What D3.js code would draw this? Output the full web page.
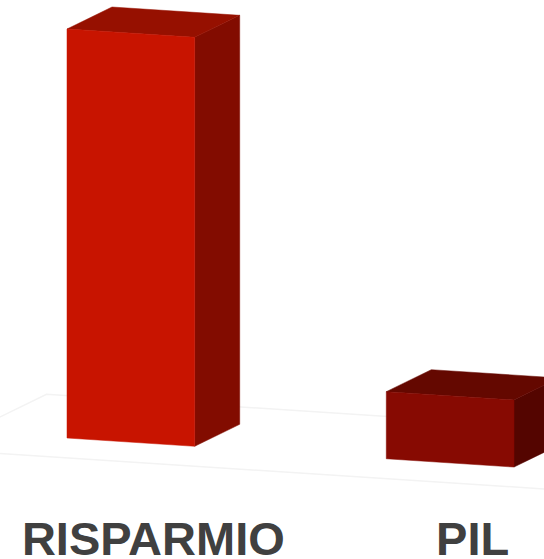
<!DOCTYPE html>
<html>
<head>
<meta charset="utf-8">
<script src="https://cdn.jsdelivr.net/npm/d3@7"></script>
<style>
  html, body { margin: 0; padding: 0; background: #ffffff; }
  svg { display: block; }
</style>
</head>
<body>
<svg id="chart" width="544" height="559"></svg>
<script>
// ---- data ----
const categories = ["RISPARMIO", "PIL"];
const values = [100, 16.4];
const frontColors = ["#c81400", "#870a02"];
const topColors = ["#961000", "#640800"];
const sideColors = ["#820c00", "#540500"];

// ---- layout ----
const W = 544, H = 559;
const svg = d3.select("#chart");
svg.append("rect").attr("width", W).attr("height", H).attr("fill", "#ffffff");

const x = d3.scaleBand().domain(categories).range([67, 514]).paddingInner(0.6).paddingOuter(0);
const y = d3.scaleLinear().domain([0, 100]).range([438, 29]);
const slope = 0.065;            // perspective tilt of horizontal edges
const depth = [45, -22];         // depth vector of the 3D boxes
const x0 = 67;
const skew = px => slope * (px - x0);

// floor (very faint)
const fa = -30, fb = 640, tf = -0.8, tb = 1.7;
const fp = (bx, t) => [bx + depth[0] * t, y(0) + skew(bx) + depth[1] * t];
const floorPts = [fp(fa, tf), fp(fb, tf), fp(fb, tb), fp(fa, tb)];
svg.append("polygon")
  .attr("points", floorPts.map(p => p.join(",")).join(" "))
  .attr("fill", "none")
  .attr("stroke", "#f3f3f3")
  .attr("stroke-width", 1.5);

// bars
const data = categories.map((c, i) => ({ c, v: values[i], i }));
const g = svg.append("g");
data.forEach(d => {
  const xl = x(d.c), xr = x(d.c) + x.bandwidth();
  const TL = [xl, y(d.v) + skew(xl)], TR = [xr, y(d.v) + skew(xr)];
  const BL = [xl, y(0) + skew(xl)], BR = [xr, y(0) + skew(xr)];
  const add = (p) => [p[0] + depth[0], p[1] + depth[1]];
  const bar = g.append("g");
  const poly = (pts, fill) => bar.append("polygon")
    .attr("points", pts.map(p => p.join(",")).join(" "))
    .attr("fill", fill).attr("stroke", fill).attr("stroke-width", 0.5).attr("stroke-linejoin", "round");
  poly([TR, add(TR), add(BR), BR], sideColors[d.i]);
  poly([TL, TR, add(TR), add(TL)], topColors[d.i]);
  poly([TL, TR, BR, BL], frontColors[d.i]);
});

// labels
svg.append("g").selectAll("text").data(data).join("text")
  .attr("x", d => x(d.c) + x.bandwidth() / 2 + depth[0] / 2)
  .attr("y", 555)
  .attr("text-anchor", "middle")
  .attr("font-family", "'Liberation Sans', Arial, sans-serif")
  .attr("font-weight", "bold")
  .attr("font-size", 47)
  .attr("fill", "#404040")
  .text(d => d.c);
</script>
</body>
</html>
